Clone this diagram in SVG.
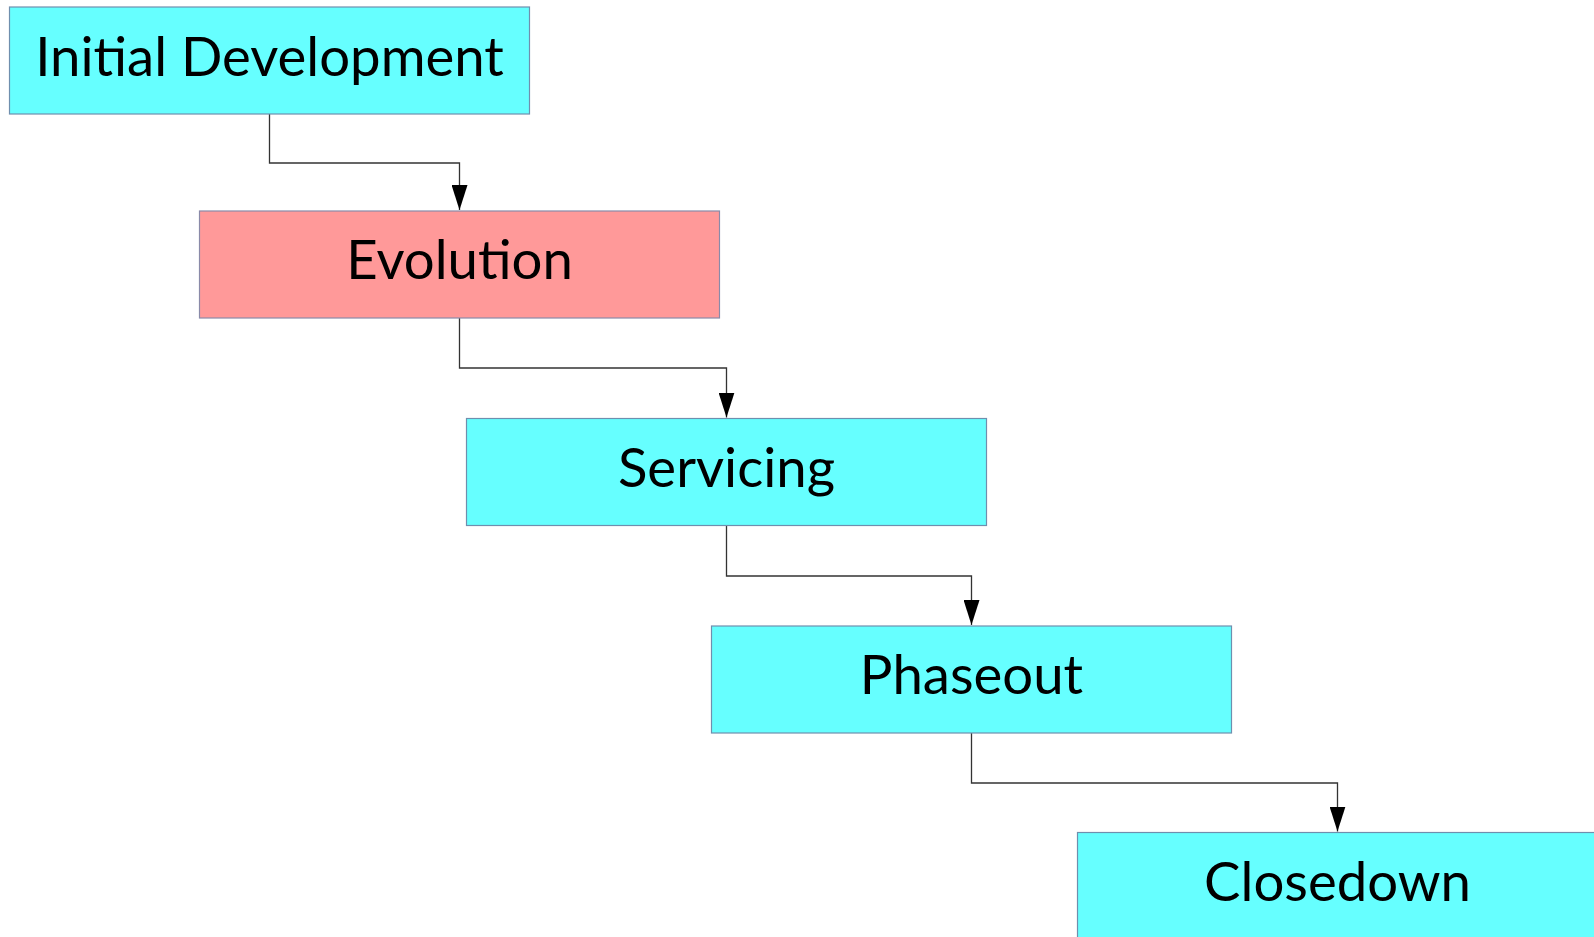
<svg xmlns="http://www.w3.org/2000/svg" width="1594" height="937" viewBox="0 0 1594 937">
  <defs>
    <style>
      .box { stroke: #6f8fae; stroke-width: 1.2; }
      .cyan { fill: #66ffff; }
      .pink { fill: #ff9999; stroke: #8a8aa8; }
      .lbl { font-family: Lato, "Liberation Sans", sans-serif; font-size: 54.5px; fill: #000; text-anchor: middle; }
      .conn { fill: none; stroke: #333; stroke-width: 1.3; }
    </style>
    <marker id="arr" markerUnits="userSpaceOnUse" markerWidth="25" markerHeight="16" refX="25" refY="8" orient="auto" viewBox="0 0 25 16">
      <path d="M0,0 L25,8 L0,16 Z" fill="#000"/>
    </marker>
  </defs>
  <rect width="1594" height="937" fill="#fff"/>
  <g id="connectors">
    <path class="conn" d="M269.5,114 V163 H459.5 V210" marker-end="url(#arr)"/>
    <path class="conn" d="M459.5,318 V368 H726.5 V417.5" marker-end="url(#arr)"/>
    <path class="conn" d="M726.5,525.5 V576 H971.5 V625" marker-end="url(#arr)"/>
    <path class="conn" d="M971.5,733 V783 H1337.5 V831.5" marker-end="url(#arr)"/>
  </g>
  <g id="initial-development">
    <rect class="box cyan" x="9.5" y="7" width="520" height="107"/>
    <text class="lbl" x="269.5" y="76">Initial Development</text>
  </g>
  <g id="evolution">
    <rect class="box pink" x="199.5" y="211" width="520" height="107"/>
    <text class="lbl" x="459.5" y="279">Evolution</text>
  </g>
  <g id="servicing">
    <rect class="box cyan" x="466.5" y="418.5" width="520" height="107"/>
    <text class="lbl" x="726.5" y="486.5">Servicing</text>
  </g>
  <g id="phaseout">
    <rect class="box cyan" x="711.5" y="626" width="520" height="107"/>
    <text class="lbl" x="971.5" y="694">Phaseout</text>
  </g>
  <g id="closedown">
    <rect class="box cyan" x="1077.5" y="832.5" width="520" height="107"/>
    <text class="lbl" x="1337.5" y="900.5">Closedown</text>
  </g>
</svg>
